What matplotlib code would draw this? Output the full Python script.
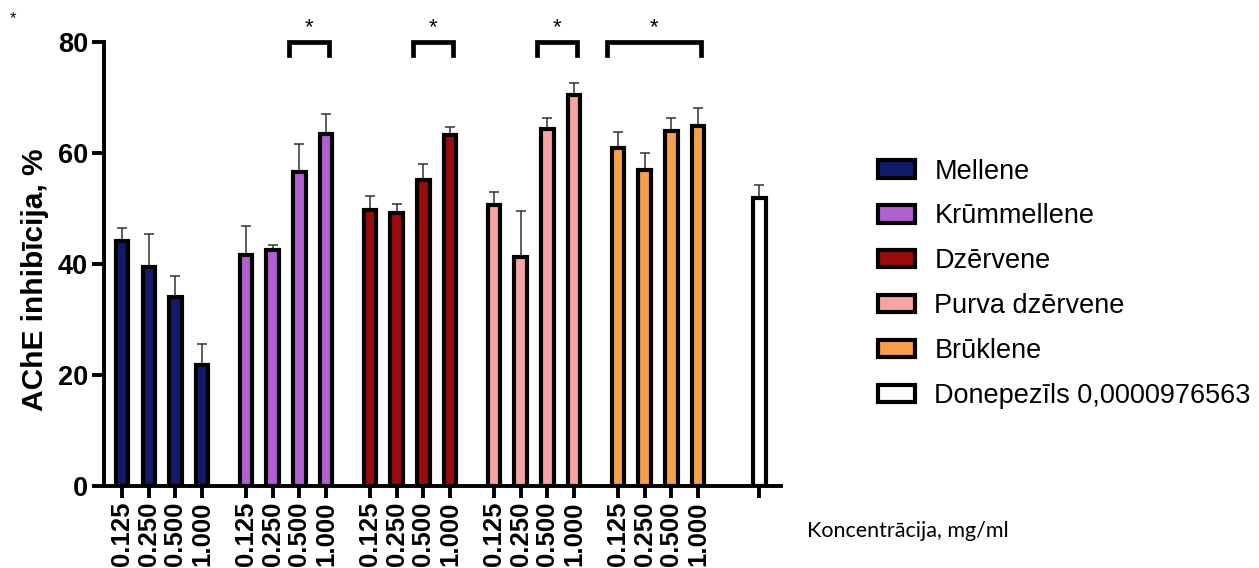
import numpy as np
import matplotlib
matplotlib.use('Agg')
import matplotlib.pyplot as plt

matplotlib.rc("font", family="Liberation Sans")

# data
groups = ['Mellene', 'Krūmmellene', 'Dzērvene', 'Purva dzērvene', 'Brūklene']
conc_labels = ['0.125', '0.250', '0.500', '1.000']
means = [
    [44.2, 39.4, 34.1, 21.8],
    [41.7, 42.5, 56.6, 63.4],
    [49.7, 49.3, 55.2, 63.2],
    [50.7, 41.2, 64.3, 70.5],
    [60.9, 56.9, 64.0, 64.9],
]
errs = [
    [2.3, 6.1, 3.7, 3.8],
    [5.1, 0.9, 5.0, 3.7],
    [2.5, 1.6, 2.9, 1.5],
    [2.3, 8.4, 2.0, 2.1],
    [2.9, 3.2, 2.4, 3.3],
]
colors = ['#121a6c', '#b25fd3', '#9a0b0b', '#f5a3a4', '#f6a04c']
donep_label = 'Donepezīls 0,0000976563'
donep_mean = 52.0
donep_err = 2.2
# significance brackets: (group index, first bar, last bar)
brackets = [(1, 2, 3), (2, 2, 3), (3, 2, 3), (4, 0, 3)]

fig = plt.figure(figsize=(12.59, 5.68), dpi=100)
ax = fig.add_axes([0.0826, 0.1444, 0.5374, 0.7811])

group_step = 4.65
width = 0.47
edge_lw = 3.0

xpos_all = []
handles = []
for g in range(len(groups)):
    x = g * group_step + np.arange(4)
    xpos_all.extend(x)
    b = ax.bar(x, means[g], width=width, color=colors[g], edgecolor='black',
               linewidth=edge_lw, label=groups[g], zorder=3)
    ax.errorbar(x, means[g], yerr=[np.zeros(4), errs[g]], fmt='none',
                ecolor='#333333', elinewidth=1.1, capsize=3.5, capthick=1.1, zorder=2)
    handles.append(b)

x_don = (len(groups) - 1) * group_step + 3 + 2.3
b = ax.bar([x_don], [donep_mean], width=width, color='white', edgecolor='black',
           linewidth=edge_lw, label=donep_label, zorder=3)
ax.errorbar([x_don], [donep_mean], yerr=[[0], [donep_err]], fmt='none',
            ecolor='#333333', elinewidth=1.1, capsize=3.5, capthick=1.1, zorder=2)
handles.append(b)

ax.set_xlim(-0.68, 24.7)
ax.set_ylim(0, 80)
ax.set_yticks([0, 20, 40, 60, 80])
ax.set_xticks(list(xpos_all) + [x_don])
ax.set_xticklabels(conc_labels * len(groups) + [''], rotation=90,
                   fontsize=18.5, fontweight='bold')
for t in ax.get_yticklabels():
    t.set_fontsize(19.5)
    t.set_fontweight('bold')

ax.spines['top'].set_visible(False)
ax.spines['right'].set_visible(False)
for s in ['left', 'bottom']:
    ax.spines[s].set_linewidth(2.8)
ax.tick_params(axis='both', width=2.8, length=8.5, pad=3)
ax.set_ylabel('AChE inhibīcija, %', fontsize=21.5, fontweight='bold')
ax.yaxis.set_label_coords(-0.081, 0.465)

# significance brackets
for g, i0, i1 in brackets:
    xl = g * group_step + i0 - 0.4
    xr = g * group_step + i1 + 0.1
    ax.plot([xl, xl, xr, xr], [77.7, 80, 80, 77.7], color='black', lw=3.4,
            solid_joinstyle='miter', clip_on=False, zorder=4)
    ax.text((xl + xr) / 2, 80.8, '*', ha='center', va='bottom', fontsize=16,
            clip_on=False)

leg = fig.legend(handles=handles, loc='upper left', bbox_to_anchor=(0.689, 0.74),
                 frameon=False, fontsize=19.5, handlelength=1.35, handleheight=0.6,
                 labelspacing=0.7, handletextpad=0.72, borderaxespad=0)
for p in leg.get_patches():
    p.set_linewidth(3.0)

fig.text(0.641, 0.055, 'Koncentrācija, mg/ml', fontsize=15.5, family='Lato')
fig.text(0.008, 0.96, '*', fontsize=12)

fig.savefig('out.png', dpi=100)
